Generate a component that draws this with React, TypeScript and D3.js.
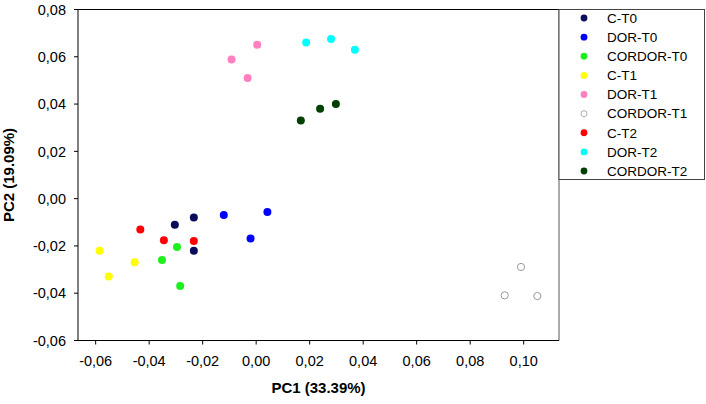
import React from "react";
import * as d3 from "d3";

const groups = ["C-T0", "DOR-T0", "CORDOR-T0", "C-T1", "DOR-T1", "CORDOR-T1", "C-T2", "DOR-T2", "CORDOR-T2"];
const colors = ["#0b0b5c", "#0000ff", "#1ef01e", "#ffff00", "#ff80c0", "none", "#ff0000", "#00ffff", "#004000"];

const pc1CT0 = [-0.0304, -0.0233, -0.0233];
const pc2CT0 = [-0.011, -0.008, -0.022];
const pc1DORT0 = [-0.0121, 0.0042, -0.0021];
const pc2DORT0 = [-0.0069, -0.0057, -0.0169];
const pc1CORDORT0 = [-0.0296, -0.0352, -0.0284];
const pc2CORDORT0 = [-0.0205, -0.026, -0.037];
const pc1CT1 = [-0.0585, -0.0454, -0.0551];
const pc2CT1 = [-0.022, -0.0269, -0.0329];
const pc1DORT1 = [-0.0092, -0.0032, 0.0004];
const pc2DORT1 = [0.0589, 0.051, 0.0651];
const pc1CORDORT1 = [0.099, 0.0929, 0.1051];
const pc2CORDORT1 = [-0.0289, -0.0409, -0.0412];
const pc1CT2 = [-0.0433, -0.0345, -0.0233];
const pc2CT2 = [-0.013, -0.0176, -0.0179];
const pc1DORT2 = [0.0187, 0.028, 0.0369];
const pc2DORT2 = [0.066, 0.0675, 0.063];
const pc1CORDORT2 = [0.0167, 0.0239, 0.0298];
const pc2CORDORT2 = [0.0331, 0.038, 0.04];

const pc1 = [pc1CT0, pc1DORT0, pc1CORDORT0, pc1CT1, pc1DORT1, pc1CORDORT1, pc1CT2, pc1DORT2, pc1CORDORT2];
const pc2 = [pc2CT0, pc2DORT0, pc2CORDORT0, pc2CT1, pc2DORT1, pc2CORDORT1, pc2CT2, pc2DORT2, pc2CORDORT2];

const xTicks = [-0.06, -0.04, -0.02, 0.0, 0.02, 0.04, 0.06, 0.08, 0.1];
const yTicks = [-0.06, -0.04, -0.02, 0.0, 0.02, 0.04, 0.06, 0.08];

const fmt = (v: number) => {
  const s = (Math.abs(v) < 1e-9 ? 0 : v).toFixed(2).replace(".", ",");
  return s;
};

const font = "Arial, 'Liberation Sans', sans-serif";

export default function App() {
  const left = 78, right = 559, top = 9.5, bottom = 340.5;
  const x = d3.scaleLinear().domain([-0.0666, 0.1132]).range([left, right]);
  const y = d3.scaleLinear().domain([-0.06, 0.08]).range([bottom, top]);

  const legX = 559, legTop = 9.5, legBottom = 179.5, legRight = 704.5;
  const legY = d3.scaleLinear().domain([0, groups.length - 1]).range([18, 171]);

  return (
    <svg width={706} height={404} style={{ position: "absolute", left: 0, top: 0, background: "#fff" }} fontFamily={font}>
      {/* frame */}
      <line x1={left} x2={right} y1={top} y2={top} stroke="#000" strokeWidth={1} />
      <line x1={right} x2={right} y1={top} y2={bottom} stroke="#555" strokeWidth={1} />
      <line x1={left} x2={left} y1={top} y2={bottom} stroke="#000" strokeWidth={1} />
      <line x1={left} x2={right} y1={bottom} y2={bottom} stroke="#000" strokeWidth={1} />

      {/* y ticks */}
      {yTicks.map((t) => (
        <g key={"y" + t}>
          <line x1={left - 4} x2={left} y1={y(t)} y2={y(t)} stroke="#000" />
          <text x={left - 12} y={y(t)} dy="0.36em" textAnchor="end" fontSize={14.5} fill="#000">
            {fmt(t)}
          </text>
        </g>
      ))}
      {/* x ticks */}
      {xTicks.map((t) => (
        <g key={"x" + t}>
          <line x1={x(t)} x2={x(t)} y1={bottom} y2={bottom + 4} stroke="#000" />
          <text x={x(t)} y={366} textAnchor="middle" fontSize={14.5} fill="#000">
            {fmt(t)}
          </text>
        </g>
      ))}

      <text x={(left + right) / 2} y={393} textAnchor="middle" fontSize={15} fontWeight="bold" fill="#000">
        PC1 (33.39%)
      </text>
      <text
        transform={`translate(14,${(top + bottom) / 2}) rotate(-90)`}
        textAnchor="middle"
        fontSize={15}
        fontWeight="bold"
        fill="#000"
      >
        PC2 (19.09%)
      </text>

      {/* points */}
      {groups.map((g, gi) =>
        pc1[gi].map((v, i) => (
          <circle
            key={g + i}
            cx={x(v)}
            cy={y(pc2[gi][i])}
            r={colors[gi] === "none" ? 3.6 : 4}
            fill={colors[gi] === "none" ? "#fff" : colors[gi]}
            stroke={colors[gi] === "none" ? "#999" : "none"}
            strokeWidth={1}
          />
        ))
      )}

      {/* legend */}
      <rect x={legX} y={legTop} width={legRight - legX} height={legBottom - legTop} fill="#fff" stroke="#444" strokeWidth={1} />
      {groups.map((g, gi) => (
        <g key={"l" + g}>
          <circle
            cx={584}
            cy={legY(gi)}
            r={colors[gi] === "none" ? 3 : 3.4}
            fill={colors[gi] === "none" ? "#fff" : colors[gi]}
            stroke={colors[gi] === "none" ? "#999" : "none"}
            strokeWidth={0.8}
          />
          <text x={607} y={legY(gi)} dy="0.36em" fontSize={13.5} fill="#000">
            {g}
          </text>
        </g>
      ))}
    </svg>
  );
}
